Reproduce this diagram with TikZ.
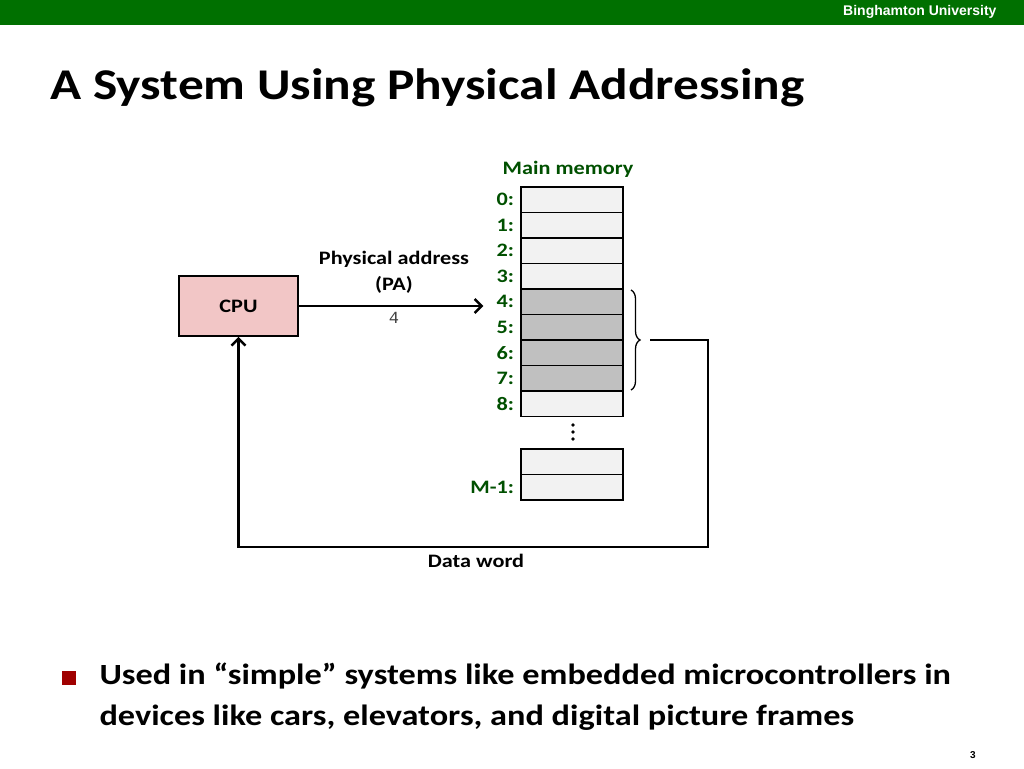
\documentclass[tikz,border=0pt]{standalone}
\usepackage{fontspec}
\setmainfont{Carlito}[FakeStretch=1.17]
\newfontfamily\unifont{Liberation Sans}
\newfontfamily\valfont{Liberation Mono}
\usepackage{tikz}
\usetikzlibrary{arrows.meta,decorations.pathreplacing}
\usepackage{xcolor}
\definecolor{bugreen}{RGB}{0,112,0}
\definecolor{memgreen}{RGB}{0,80,0}
\definecolor{cpupink}{RGB}{242,198,198}
\definecolor{celllight}{RGB}{242,242,242}
\definecolor{celldark}{RGB}{192,192,192}
\definecolor{bulletred}{RGB}{160,0,0}

\begin{document}
\begin{tikzpicture}[x=1pt,y=-1pt,
		cell/.style={rectangle,draw,line width=1.5pt,minimum width=102pt,minimum height=25.5pt,inner sep=0pt},
		addr/.style={font=\fontsize{19}{19}\selectfont\bfseries,text=memgreen,anchor=east,inner sep=0pt},
		lbl/.style={font=\fontsize{19}{26}\selectfont\bfseries},
		wire/.style={line width=2.5pt,-{Straight Barb[length=7pt,width=14pt]}}]
				\useasboundingbox (0,0) rectangle (1024,768);
				\fill[bugreen] (0,0) rectangle (1024,25);
				\node(uni) at (1000,12)[anchor=east,text=white,font=\unifont\fontsize{14}{14}\selectfont\bfseries]{Binghamton University};
				\node(title) at (47,88)[anchor=west,font=\fontsize{43.9}{43.9}\selectfont\bfseries]{A System Using Physical Addressing};
				
				\node(mm) at (568,169)[lbl,text=memgreen]{Main memory};
				\foreach \i/\c in {0/celllight,1/celllight,2/celllight,3/celllight,4/celldark,5/celldark,6/celldark,7/celldark,8/celllight}{
					\node(m\i) at (572,{199.75+25.5*\i})[cell,fill=\c]{};
					\node(a\i) at ([xshift=-6pt]m\i.west)[addr]{\i:};
				}
				\node(mk) at (572,461.75)[cell,fill=celllight]{};
				\node(mlast) at (572,487.25)[cell,fill=celllight]{};
				\node(alast) at ([xshift=-6pt]mlast.west)[addr]{M-1:};
				\foreach \y in {425,432,439}
					\fill (573,\y) circle (1.9);
				
				\node(cpu) at (238.5,306)[rectangle,draw,line width=1.5pt,fill=cpupink,minimum width=119pt,minimum height=60pt,lbl]{CPU};
				\draw[wire,shorten >=13pt] (cpu.east) -- (cpu.east -| a4.west);
				\node(pa) at (394,272)[align=center,lbl]{Physical address\\(PA)};
				\node(val) at (394,318)[font=\valfont\fontsize{17}{17}\selectfont,text=black!75]{4};
				
				\draw[decorate,decoration={brace,amplitude=9pt},line width=1.3pt] (631,290) -- (631,390);
				\coordinate(tip) at (650,340);
				\coordinate(corner) at (708,547);
				\draw[wire] (tip) -| (corner) -| (cpu.south);
				\node(dw) at (476,561)[lbl]{Data word};
				
				\fill[bulletred] (62,671) rectangle (76,685);
				\node(bul) at (96,697)[anchor=west,align=left,font=\fontsize{29.3}{41}\selectfont\bfseries]{Used in “simple” systems like embedded microcontrollers in\\devices like cars, elevators, and digital picture frames};
				\node(pg) at (973,755)[font=\unifont\fontsize{10}{10}\selectfont\bfseries]{3};
			\end{tikzpicture}
\end{document}
